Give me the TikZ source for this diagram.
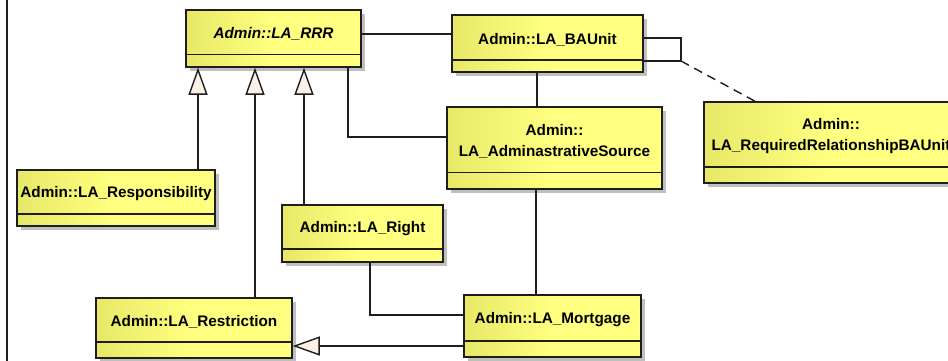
\documentclass[tikz,border=0pt]{standalone}
\usepackage{fontspec}
\setmainfont{Liberation Sans}
\usetikzlibrary{arrows.meta,shadows}

\definecolor{boxl}{RGB}{232,232,104}
\definecolor{boxr}{RGB}{255,255,128}
\definecolor{linec}{RGB}{30,30,30}
\definecolor{tipc}{RGB}{250,240,228}

\tikzset{
  classbox/.style={draw=linec, line width=1.5pt, inner sep=0pt,
    left color=boxl, right color=boxr, middle color=boxr,
    drop shadow={shadow xshift=4pt, shadow yshift=-4pt, fill=black!25, opacity=1}},
  classline/.style={draw=linec, line width=1.5pt},
  classname/.style={font=\bfseries\fontsize{15.3}{21}\selectfont, align=center, inner sep=0pt, yshift=-2pt},
  assoc/.style={draw=linec, line width=1.4pt},
  generalize/.style={draw=linec, line width=1.4pt, -{Triangle[length=27pt, width=19pt, fill=tipc]}},
  assocclass/.style={draw=linec, line width=1.4pt, dash pattern=on 9pt off 6pt},
}

% #1 name, #2,#3 top left, #4,#5 bottom right, #6 divider, #7 label
\newcommand{\umlclass}[7]{%
  \node[classbox, minimum width={#4-#2}, minimum height={#5-#3}] (#1) at ({(#2+#4)/2},{(#3+#5)/2}) {};
  \draw[classline] (#2,#6) -- (#4,#6);
  \node[classname] (#1-name) at ({(#2+#4)/2},{(#3+#6)/2}) {#7};
}

\begin{document}
\begin{tikzpicture}[x=1pt,y=-1pt]
    \useasboundingbox (0,0) rectangle (948,361);
    \fill[white] (0,0) rectangle (948,361);
    \clip (0,0) rectangle (948,361);
    \draw[line width=2pt, linec] (7,0) -- (7,361);

    \umlclass{rrr}{186}{10}{361}{67}{54.5}{\itshape Admin::LA\_RRR}
    \umlclass{bau}{452}{15}{643}{72}{60}{Admin::LA\_BAUnit}
    \umlclass{req}{704}{102}{958}{183}{167}{Admin::\\LA\_RequiredRelationshipBAUnit}
    \umlclass{resp}{17}{170}{215}{226}{214}{Admin::LA\_Responsibility}
    \umlclass{adm}{447}{107}{662}{189}{172.5}{Admin::\\LA\_AdminastrativeSource}
    \umlclass{right}{282}{205}{443}{262}{249}{Admin::LA\_Right}
    \umlclass{restr}{96}{298}{292}{358}{342}{Admin::LA\_Restriction}
    \umlclass{mort}{464}{295}{641}{357}{341}{Admin::LA\_Mortgage}

    % generalizations
    \draw[generalize] (resp.north -| 198,0) -- (rrr.south -| 198,0);
    \draw[generalize] (restr.north -| 255,0) -- (rrr.south -| 255,0);
    \draw[generalize] (right.north -| 304,0) -- (rrr.south -| 304,0);
    \draw[generalize] (mort.west |- 0,346) -- (restr.east |- 0,346);

    % associations
    \draw[assoc] (rrr.east |- 0,34) -- (bau.west |- 0,34);
    \draw[assoc] (rrr.south -| 348,0) |- (adm.west |- 0,137);
    \draw[assoc] (bau.south -| 537,0) -- (adm.north -| 537,0);
    \draw[assoc] (adm.south -| 536,0) -- (mort.north -| 536,0);
    \draw[assoc] (right.south -| 370,0) |- (mort.west |- 0,315);
    \draw[assoc] (bau.east |- 0,38) -| (681,61) coordinate (loop) -- (bau.east |- 0,61);
    \draw[assocclass] (loop) -- (req.north -| 755,0);
\end{tikzpicture}
\end{document}
